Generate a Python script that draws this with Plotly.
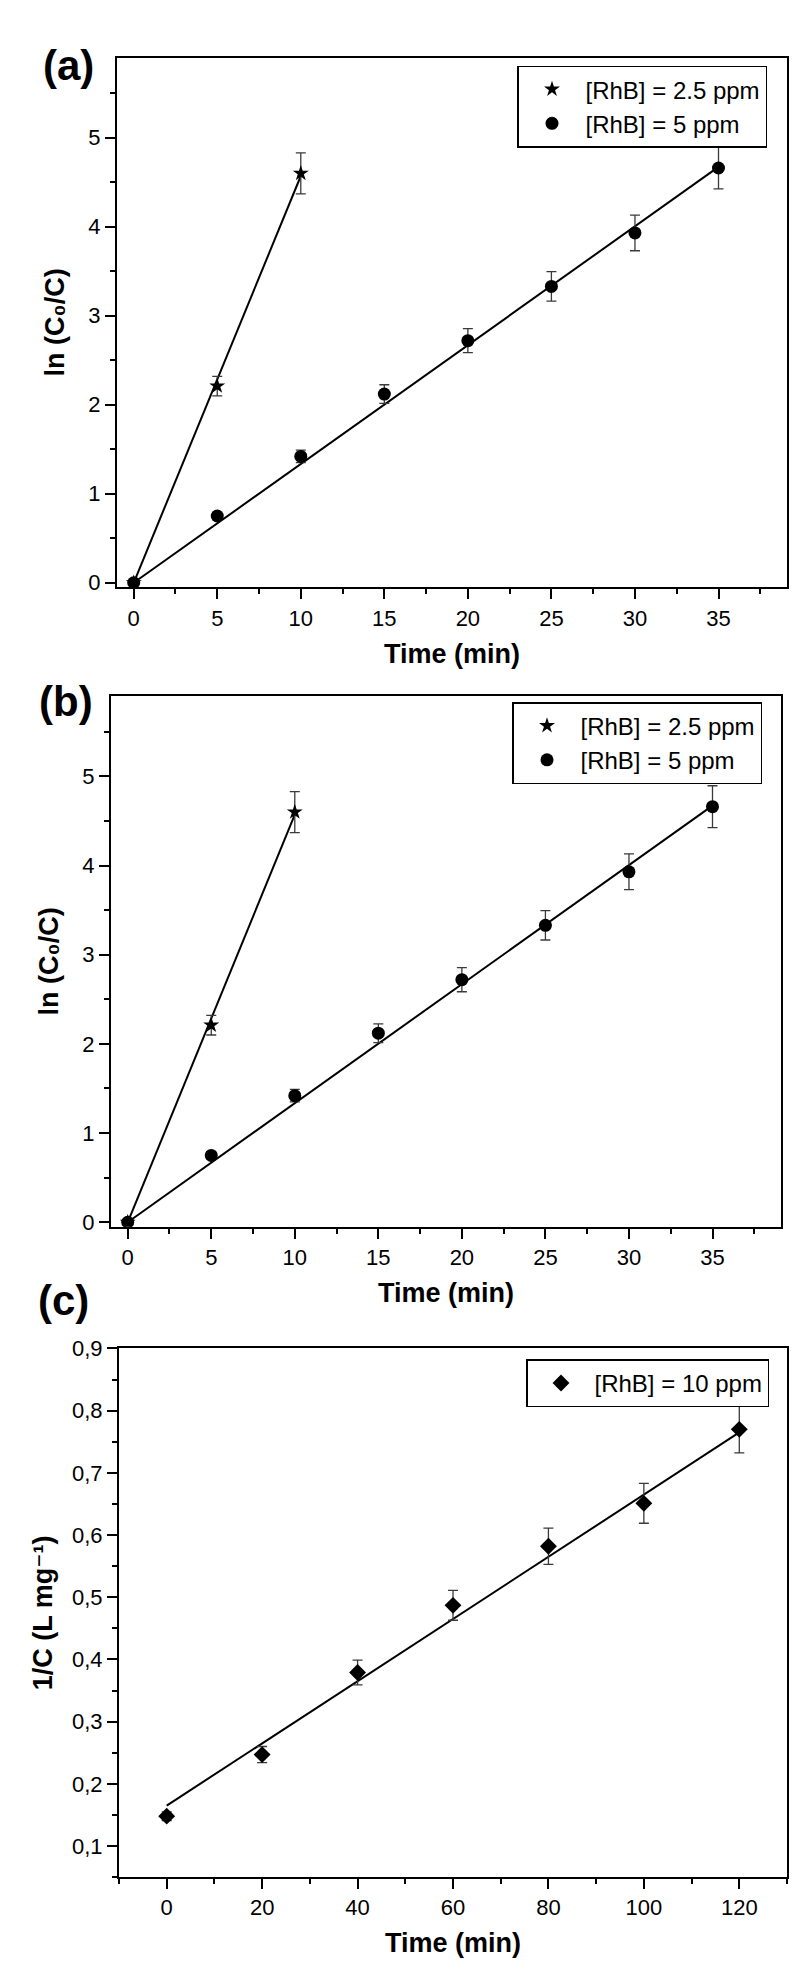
import plotly.graph_objects as go

# ---------------- data ----------------
# panels (a) and (b): pseudo-first-order kinetics
t_25 = [0, 5, 10]
y_25 = [0.0, 2.21, 4.60]
e_25 = [0.03, 0.11, 0.23]

t_5 = [0, 5, 10, 15, 20, 25, 30, 35]
y_5 = [0.0, 0.75, 1.42, 2.12, 2.72, 3.33, 3.93, 4.66]
e_5 = [0.03, 0.04, 0.07, 0.105, 0.135, 0.165, 0.20, 0.235]

# fitted lines (slope, intercept)
fit_25 = (0.457, 0.0)
fit_5 = (0.1335, 0.0)

# panel (c): pseudo-second-order kinetics
t_10 = [0, 20, 40, 60, 80, 100, 120]
y_10 = [0.148, 0.247, 0.379, 0.487, 0.582, 0.651, 0.770]
e_10 = [0.007, 0.013, 0.020, 0.024, 0.029, 0.032, 0.038]
fit_10 = (0.0050, 0.165)

ab_xticks = [0, 5, 10, 15, 20, 25, 30, 35]
ab_yticks = [0, 1, 2, 3, 4, 5]
c_xticks = [0, 20, 40, 60, 80, 100, 120]
c_yticks = [0.1, 0.2, 0.3, 0.4, 0.5, 0.6, 0.7, 0.8, 0.9]
c_yticktext = ["0,1", "0,2", "0,3", "0,4", "0,5", "0,6", "0,7", "0,8", "0,9"]

lab_25 = "[RhB] = 2.5 ppm"
lab_5 = "[RhB] = 5 ppm"
lab_10 = "[RhB] = 10 ppm"
ytitle_ab = "ln (C\u2080/C)"
ytitle_c = "1/C (L mg\u207b\u00b9)"
xtitle_txt = "Time (min)"

# ---------------- style ----------------
FONT = "Liberation Sans, Arial, DejaVu Sans, sans-serif"
TICKFONT = dict(family=FONT, size=22, color="black")
TITLEFONT = dict(family=FONT, size=27, color="black", weight="bold")
ERRC = "#3a3a3a"

fig = go.Figure()


def line_pts(xs, fit):
    x0, x1 = min(xs), max(xs)
    return [x0, x1], [fit[0] * x0 + fit[1], fit[0] * x1 + fit[1]]


def add_panel(xa, ya, leg):
    for tt, yy, ee, ff, sym, sz, name in [
        (t_25, y_25, e_25, fit_25, "star", 12, lab_25),
        (t_5, y_5, e_5, fit_5, "circle", 13, lab_5),
    ]:
        lx, ly = line_pts(tt, ff)
        fig.add_trace(go.Scatter(x=lx, y=ly, mode="lines", line=dict(color="black", width=2),
                                 xaxis=xa, yaxis=ya, showlegend=False, hoverinfo="skip"))
        fig.add_trace(go.Scatter(x=tt, y=yy, mode="markers", name=name,
                                 marker=dict(symbol=sym, size=sz, color="black"),
                                 error_y=dict(type="data", array=ee, color=ERRC, thickness=1.3, width=5),
                                 xaxis=xa, yaxis=ya, legend=leg))


add_panel("x", "y", "legend")
add_panel("x2", "y2", "legend2")

lx, ly = line_pts(t_10, fit_10)
fig.add_trace(go.Scatter(x=lx, y=ly, mode="lines", line=dict(color="black", width=2),
                         xaxis="x3", yaxis="y3", showlegend=False, hoverinfo="skip"))
fig.add_trace(go.Scatter(x=t_10, y=y_10, mode="markers", name=lab_10,
                         marker=dict(symbol="diamond", size=13, color="black"),
                         error_y=dict(type="data", array=e_10, color=ERRC, thickness=1.3, width=5),
                         xaxis="x3", yaxis="y3", legend="legend3"))

H = 1985.0
W = 800.0


def ydom(top, bottom):
    return [1 - bottom / H, 1 - top / H]


def xdom(left, right):
    return [left / W, right / W]


common = dict(showline=True, linecolor="black", linewidth=2, mirror=True,
              ticks="outside", ticklen=10, tickwidth=2, tickcolor="black",
              showgrid=False, zeroline=False, tickfont=TICKFONT)


def minor(d, t0=0):
    return dict(ticks="outside", dtick=d, tick0=t0, ticklen=5, tickwidth=2, tickcolor="black")


xtitle = dict(text=xtitle_txt, font=TITLEFONT, standoff=14)

fig.update_layout(
    width=800, height=1985,
    margin=dict(l=0, r=0, t=0, b=0),
    paper_bgcolor="white", plot_bgcolor="white",
    font=dict(family=FONT, color="black"),
    xaxis=dict(domain=xdom(109, 779), anchor="y", range=[-1, 39.1], tickvals=ab_xticks,
               minor=minor(2.5), title=xtitle, **common),
    yaxis=dict(domain=ydom(38, 573), anchor="x", range=[-0.05, 5.9], tickvals=ab_yticks,
               minor=minor(0.5),
               title=dict(text=ytitle_ab, font=TITLEFONT, standoff=16), **common),
    xaxis2=dict(domain=xdom(103, 773), anchor="y2", range=[-1, 39.1], tickvals=ab_xticks,
                minor=minor(2.5), title=xtitle, **common),
    yaxis2=dict(domain=ydom(683, 1219), anchor="x2", range=[-0.05, 5.9], tickvals=ab_yticks,
                minor=minor(0.5),
                title=dict(text=ytitle_ab, font=TITLEFONT, standoff=16), **common),
    xaxis3=dict(domain=xdom(111, 779), anchor="y3", range=[-10, 130], tickvals=c_xticks,
                minor=minor(10), title=xtitle, **common),
    yaxis3=dict(domain=ydom(1342, 1876), anchor="x3", range=[0.05, 0.9], tickvals=c_yticks,
                ticktext=c_yticktext, minor=minor(0.05, 0.05),
                title=dict(text=ytitle_c, font=TITLEFONT, standoff=12), **common),
)

legstyle = dict(xanchor="left", yanchor="top", bordercolor="black", borderwidth=1.5,
                bgcolor="white", font=dict(family=FONT, size=24, color="black"),
                itemwidth=57, tracegroupgap=0)
fig.update_layout(
    legend=dict(x=509 / W, y=1 - 46 / H, **legstyle),
    legend2=dict(x=504 / W, y=1 - 689 / H, **legstyle),
    legend3=dict(x=518 / W, y=1 - 1353 / H, **legstyle),
)

for txt, cx, cy in [("(a)", 60, 46), ("(b)", 58, 688), ("(c)", 55, 1294)]:
    fig.add_annotation(text=txt, xref="paper", yref="paper",
                       x=cx / W, y=1 - cy / H, xanchor="center", yanchor="middle",
                       showarrow=False, font=dict(family=FONT, size=42, color="black", weight="bold"))

fig.write_html("out.html")
